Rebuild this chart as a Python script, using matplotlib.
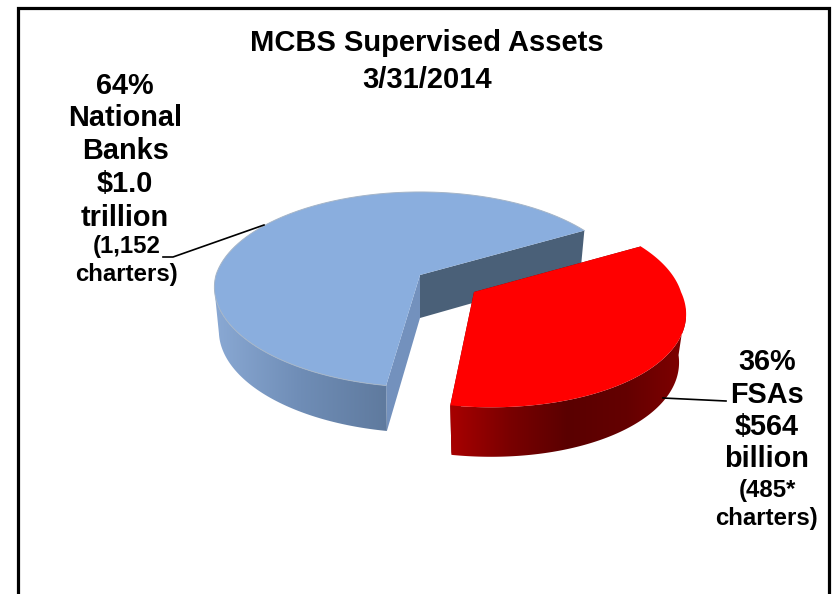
import numpy as np
import matplotlib.pyplot as plt
from matplotlib.colors import LinearSegmentedColormap
from matplotlib.patches import Polygon

plt.rcParams['font.family'] = ['Liberation Sans', 'DejaVu Sans']

title_lines = ['MCBS Supervised Assets', '3/31/2014']
shares = [64, 36]
big_labels = [['64%', 'National', 'Banks', '$1.0', 'trillion'],
              ['36%', 'FSAs', '$564', 'billion']]
small_labels = [['(1,152', 'charters)'], ['(485*', 'charters)']]

start_angle = 30
persp = 0.15


def project(theta, apex, a, b, shear):
    # circle seen in perspective, theta in degrees
    u = np.cos(np.radians(theta))
    v = np.sin(np.radians(theta))
    d = 1 + persp * v
    x = a * u / d
    y = -b * v / d
    return apex[0] + x + shear * np.maximum(y, 0), apex[1] + y


def wall_depth(theta, depth):
    return depth - 2.5 * np.sin(np.radians(theta))


def draw_slice(ax, t1, t2, apex, a, b, shear, depth, top_col, wall_cols, face_cols, edge, shrink):
    cmap = LinearSegmentedColormap.from_list('w', wall_cols)
    th = np.linspace(t1, t2, 300)
    x, y = project(th, apex, a, b, shear)
    u = np.cos(np.radians(th))
    xb = x - shrink * a * u
    yb = y + wall_depth(th, depth)

    # cut faces, back one first
    for t, col in zip([t1, t2], face_cols):
        xe, ye = project(t, apex, a, b, shear)
        xeb = xe - shrink * a * np.cos(np.radians(t))
        yeb = ye + wall_depth(t, depth)
        ax.fill([apex[0], xe, xeb, apex[0]], [apex[1], ye, yeb, apex[1] + depth],
                color=col, lw=0, zorder=2)

    # outer wall from the widest point of the rim on, gradient runs left to right
    front = np.sin(np.radians(th)) < -persp
    xs = np.r_[x[front], xb[front][::-1]]
    ys = np.r_[y[front], yb[front][::-1]]
    grad = np.linspace(0, 1, 256).reshape(1, -1)
    im = ax.imshow(grad, cmap=cmap, aspect='auto', zorder=3, interpolation='bilinear',
                   extent=(xs.min(), xs.max(), ys.max(), ys.min()))
    clip = Polygon(np.c_[xs, ys], closed=True, transform=ax.transData, fc='none', lw=0)
    ax.add_patch(clip)
    im.set_clip_path(clip)

    # top surface
    ax.fill(np.r_[apex[0], x], np.r_[apex[1], y], color=top_col, lw=0, zorder=4)
    if edge:
        ax.plot(x, y, color=edge, lw=0.7, zorder=5)


fig = plt.figure(figsize=(8.32, 5.94), dpi=100)
ax = fig.add_axes([0, 0, 1, 1])
ax.axis('off')

# frame, bottom side is cut off
ax.plot([17.5, 17.5, 828.5, 828.5], [594, 7.5, 7.5, 594], color='black', lw=2.3,
        solid_joinstyle='miter', zorder=1)

sweep = [s / sum(shares) * 360 for s in shares]

draw_slice(ax, start_angle, start_angle + sweep[0], (420, 275), 204, 95.5, 0.055, 43,
           '#8aaede', ['#8aa9d4', '#6f8db6', '#5f7a9e'],
           ['#4a6078', '#7391bd'], '#a5b5c8', 0.022)
draw_slice(ax, start_angle, start_angle - sweep[1], (474, 292), 207, 98, 0.148, 47,
           '#ff0000', ['#a80000', '#7a0000', '#5a0000', '#640000', '#800000'],
           ['#700000', '#700000'], None, 0.035)

# leader lines
ax.plot([163, 173, 264], [257, 257, 225], color='black', lw=1.2, zorder=6)
ax.plot([663, 726], [398, 401], color='black', lw=1.2, zorder=6)

for line, yy in zip(title_lines, [43, 80]):
    ax.text(427, yy, line, ha='center', va='center', fontsize=21, fontweight='bold', zorder=7)

big_pos = [(125, [86, 118, 151, 184, 218]), (767, [362, 395, 427, 459])]
small_pos = [(127, [247, 275]), (767, [491, 518])]
for lines, (cx, ys) in zip(big_labels, big_pos):
    for line, yy in zip(lines, ys):
        ax.text(cx, yy, line, ha='center', va='center', fontsize=20.8, fontweight='bold', zorder=7)
for lines, (cx, ys) in zip(small_labels, small_pos):
    for line, yy in zip(lines, ys):
        ax.text(cx, yy, line, ha='center', va='center', fontsize=17.3, fontweight='bold', zorder=7)

ax.set_xlim(0, 832)
ax.set_ylim(594, 0)
fig.savefig('out.png', dpi=100, facecolor='white')
